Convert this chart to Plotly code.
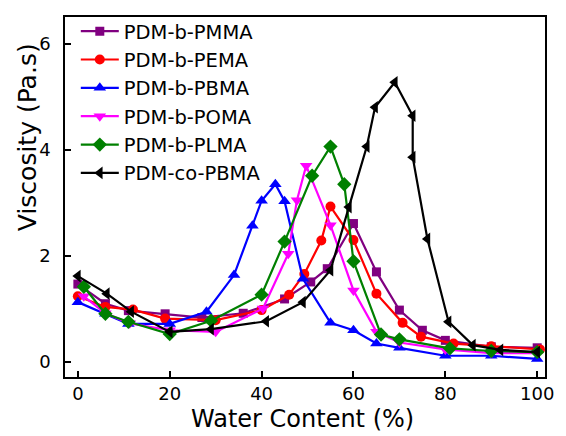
import plotly.graph_objects as go

# ---- data ----
pmma_x = [0, 6, 11, 19, 27, 36, 45, 50.7, 54.3, 60, 65, 70, 75, 80, 90, 100]
pmma_y = [1.47, 1.1, 0.97, 0.91, 0.84, 0.92, 1.19, 1.51, 1.76, 2.61, 1.7, 0.98, 0.6, 0.41, 0.29, 0.27]

pema_x = [0, 6, 12, 19, 30, 40, 46, 49.3, 53, 55, 60, 65, 70.7, 74.7, 81.8, 90, 100.6]
pema_y = [1.24, 1.04, 0.99, 0.82, 0.79, 0.98, 1.27, 1.66, 2.29, 2.93, 2.3, 1.29, 0.74, 0.48, 0.35, 0.3, 0.24]

pbma_x = [0, 6, 11, 20, 28, 34, 38, 40, 43, 45, 49, 55, 60, 65, 70, 80, 90, 100]
pbma_y = [1.13, 0.91, 0.72, 0.72, 0.95, 1.64, 2.57, 3.04, 3.35, 3.03, 1.57, 0.74, 0.6, 0.35, 0.27, 0.12, 0.12, 0.06]

poma_x = [1.3, 6, 11.3, 20, 30, 40.3, 45.8, 47.7, 49.7, 55, 60, 65, 70, 80, 90, 100]
poma_y = [1.24, 0.92, 0.73, 0.6, 0.57, 1.01, 2.04, 3.05, 3.7, 2.58, 1.35, 0.57, 0.37, 0.24, 0.17, 0.17]

plma_x = [1.3, 6, 11, 20, 29, 40, 45, 51, 55, 58, 60, 66, 70, 81, 90, 100]
plma_y = [1.42, 0.91, 0.76, 0.53, 0.78, 1.27, 2.27, 3.51, 4.06, 3.35, 1.9, 0.52, 0.43, 0.26, 0.21, 0.19]

copbma_x = [0, 6.3, 11.6, 20, 29, 41, 49, 55, 59, 62.9, 64.7, 69, 72.9, 72.9, 76.1, 80.7, 86, 92, 100]
copbma_y = [1.62, 1.29, 0.95, 0.57, 0.62, 0.77, 1.13, 1.73, 2.92, 4.06, 4.8, 5.27, 4.64, 3.86, 2.32, 0.76, 0.32, 0.23, 0.19]

series = [
    ("PDM-b-PMMA", pmma_x, pmma_y, "#800080", "square", 9),
    ("PDM-b-PEMA", pema_x, pema_y, "#FF0000", "circle", 10),
    ("PDM-b-PBMA", pbma_x, pbma_y, "#0000FF", "triangle-up", 11),
    ("PDM-b-POMA", poma_x, poma_y, "#FF00FF", "triangle-down", 11),
    ("PDM-b-PLMA", plma_x, plma_y, "#008000", "diamond", 11),
    ("PDM-co-PBMA", copbma_x, copbma_y, "#000000", "triangle-left", 11),
]

x_ticks = [0, 20, 40, 60, 80, 100]
y_ticks = [0, 2, 4, 6]
x_title = "Water Content (%)"
y_title = "Viscosity (Pa.s)"

fig = go.Figure()
for name, xs, ys, col, sym, sz in series:
    fig.add_trace(go.Scatter(
        x=xs, y=ys, name=name, mode="lines+markers",
        line=dict(color=col, width=2.2),
        marker=dict(symbol=sym, size=sz, color=col),
    ))

FONT = "DejaVu Sans, Arial, sans-serif"
fig.update_layout(
    width=566, height=436,
    margin=dict(l=65, r=13, t=16, b=59),
    paper_bgcolor="white", plot_bgcolor="white",
    font=dict(family=FONT, color="black"),
    showlegend=True,
    legend=dict(
        x=0.0225, y=1.014, xanchor="left", yanchor="top",
        font=dict(size=19.5, family=FONT, color="black"),
        bgcolor="rgba(0,0,0,0)", borderwidth=0,
        itemwidth=38,
        tracegroupgap=0,
    ),
    xaxis=dict(
        range=[-2.8, 101.7], tickvals=x_ticks,
        ticks="inside", ticklen=6, tickwidth=1.5, tickcolor="black",
        showline=True, linecolor="black", linewidth=1.5, mirror=True,
        showgrid=False, zeroline=False,
        tickfont=dict(size=18, family=FONT),
        ticklabelstandoff=0,
    ),
    yaxis=dict(
        range=[-0.28, 6.5], tickvals=y_ticks,
        ticks="inside", ticklen=6, tickwidth=1.5, tickcolor="black",
        showline=True, linecolor="black", linewidth=1.5, mirror=True,
        showgrid=False, zeroline=False,
        tickfont=dict(size=18, family=FONT),
        ticklabelstandoff=9,
    ),
    annotations=[
        dict(
            text=y_title, xref="paper", yref="paper",
            x=-0.078, y=0.665, xanchor="center", yanchor="middle",
            textangle=-90, showarrow=False,
            font=dict(size=25, family=FONT, color="black"),
        ),
        dict(
            text=x_title, xref="paper", yref="paper",
            x=0.495, y=-0.116, xanchor="center", yanchor="middle",
            showarrow=False,
            font=dict(size=24, family=FONT, color="black"),
        ),
    ],
)

fig.write_html("out.html")
